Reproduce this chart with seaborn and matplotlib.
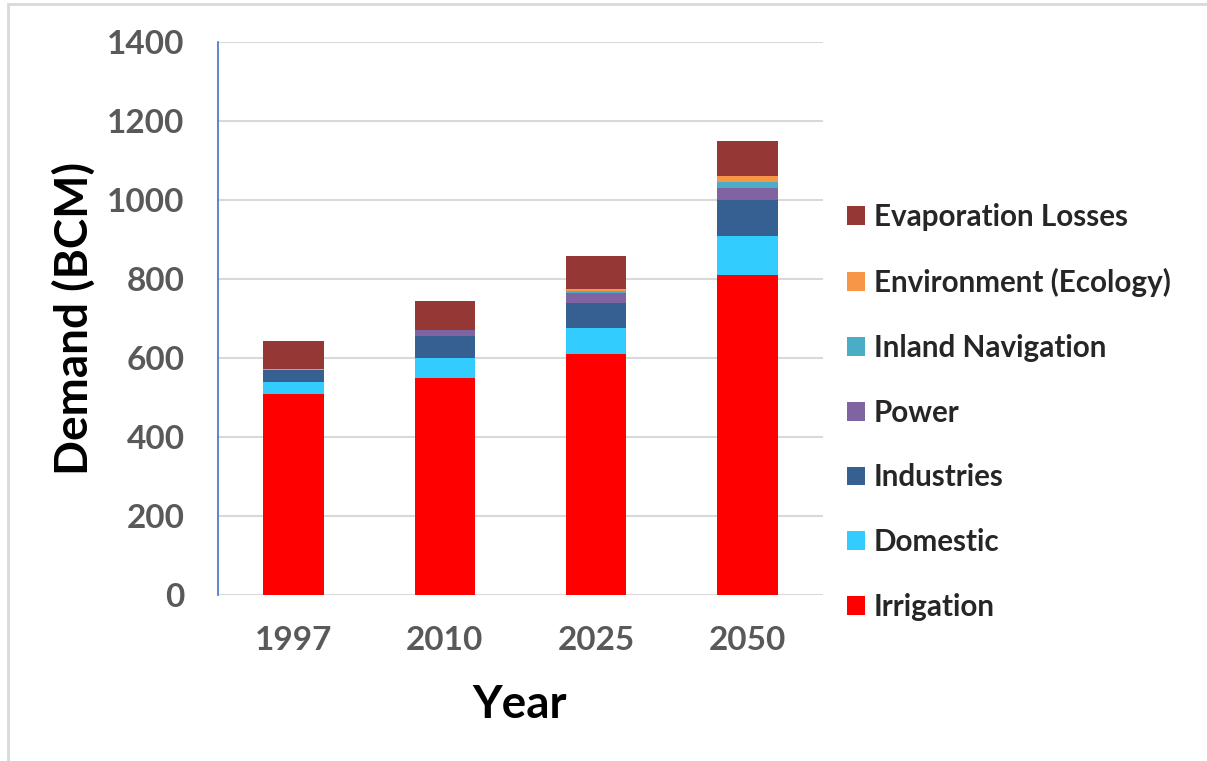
import matplotlib
matplotlib.use("Agg")
import matplotlib.pyplot as plt
import seaborn as sns
import numpy as np
from matplotlib.patches import Patch, Rectangle

years = ["1997", "2010", "2025", "2050"]
irrigation = [510, 550, 610, 810]
domestic = [30, 50, 65, 100]
industries = [30, 55, 65, 90]
power = [0, 15, 24, 30]
inland_navigation = [0, 0, 5, 15]
environment = [2, 0, 5, 15]
evaporation = [71, 75, 85, 90]

series_names = ["Irrigation", "Domestic", "Industries", "Power",
                "Inland Navigation", "Environment (Ecology)", "Evaporation Losses"]
series_values = [irrigation, domestic, industries, power,
                 inland_navigation, environment, evaporation]
series_colors = ["#FF0000", "#33CCFF", "#376092", "#8064A2",
                 "#4BACC6", "#F79646", "#953735"]

y_ticks = [0, 200, 400, 600, 800, 1000, 1200, 1400]

sns.set_style("white")
plt.rcParams['font.family'] = ['Lato', 'DejaVu Sans']

fig = plt.figure(figsize=(12.07, 7.61), dpi=100)
ax = fig.add_axes([218/1207, 1-595/761, (823-218)/1207, (595-42)/761])

bottom = np.zeros(len(years))
for name, vals, col in zip(series_names, series_values, series_colors):
    sns.barplot(x=years, y=vals, bottom=bottom, color=col, width=0.4,
                ax=ax, linewidth=0, saturation=1, label=name)
    bottom = bottom + np.array(vals)

ax.set_ylim(0, 1400)
ax.set_yticks(y_ticks)
ax.set_xlim(-0.5, 3.5)
ax.yaxis.grid(True, color="#D9D9D9", linewidth=1.5)
ax.set_axisbelow(True)
for s in ["top", "right", "bottom"]:
    ax.spines[s].set_visible(False)
ax.spines["left"].set_color("#4472C4")
ax.spines["left"].set_linewidth(1.2)
ax.tick_params(axis="both", length=0, labelsize=24, labelcolor="#595959")
ax.tick_params(axis="y", pad=24)
ax.tick_params(axis="x", pad=22)
for lab in ax.get_xticklabels() + ax.get_yticklabels():
    lab.set_fontweight("bold")

ax.set_ylabel("Demand (BCM)", fontsize=33, fontweight="bold", color="black")
ax.set_xlabel("Year", fontsize=33, fontweight="bold", color="black")
ax.yaxis.set_label_coords(96/1207, 1-318/761, transform=fig.transFigure)
ax.xaxis.set_label_coords(520/1207, 1-684/761, transform=fig.transFigure)

handles = [Patch(facecolor=c, edgecolor="none") for c in series_colors][::-1]
labels = series_names[::-1]
leg = ax.get_legend()
if leg is not None:
    leg.remove()
fig.legend(handles, labels, loc="center left",
           bbox_to_anchor=(847/1207, 1-412/761), frameon=False,
           handlelength=0.6, handleheight=0.6,
           handletextpad=0.3, labelspacing=1.245, borderpad=0, borderaxespad=0,
           prop={"weight": "bold", "size": 21.3})

fig.patches.append(Rectangle((8/1207, -0.1), 1.2, 1.1 - 4/761,
                             transform=fig.transFigure, fill=False,
                             edgecolor="#D9D9D9", linewidth=2))

fig.savefig("out.png", dpi=100)
